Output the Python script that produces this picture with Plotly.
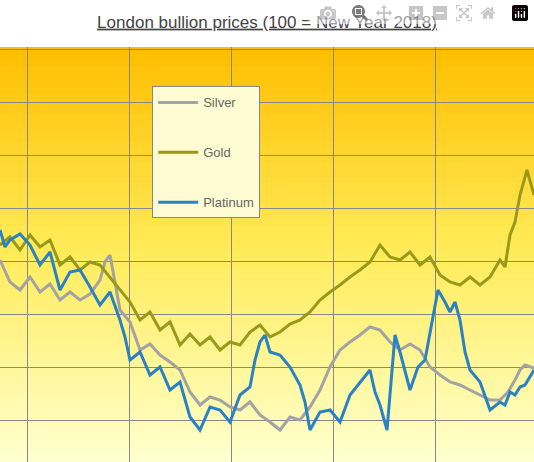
import plotly.graph_objects as go

# x positions (time index) and index levels
gold_x = [0,10,20,30,40,50,60,70,80,90,100,110,120,130,140,150,160,170,180,190,200,210,220,230,240,250,260,270,280,290,300,310,320,330,340,350,360,370,380,390,400,410,420,430,440,450,460,470,480,490,500,505,510,515,520,527,534]
gold_y = [217,225,212,227,215,222,197,205,192,200,197,185,172,160,142,150,132,140,117,128,117,125,112,120,117,130,137,125,130,138,142,150,162,170,177,185,192,200,217,205,202,210,197,205,187,180,177,185,177,185,202,195,227,240,267,292,267]
silver_x = [0,10,20,30,40,50,60,70,80,90,100,105,110,115,120,130,140,150,160,170,180,190,200,210,220,230,240,250,260,270,280,290,300,310,320,330,340,350,360,370,380,390,400,410,420,430,440,450,460,470,480,490,500,508,515,520,525,534]
silver_y = [202,180,172,185,170,178,162,170,162,168,182,200,207,180,152,140,112,118,107,100,92,70,57,65,62,55,52,60,47,40,32,45,42,55,72,95,112,120,127,135,132,120,112,118,112,95,87,80,77,72,67,62,62,70,82,92,97,94]
plat_x = [0,5,10,20,30,40,50,60,70,80,90,100,110,120,125,130,140,150,160,170,180,185,190,200,210,220,230,240,250,255,260,265,270,280,290,300,305,310,320,330,340,350,360,370,375,380,387,395,400,410,418,425,432,438,445,450,455,460,465,470,480,490,500,505,510,515,520,525,534]
plat_y = [232,215,222,228,217,197,210,172,190,192,175,157,170,142,125,102,110,87,95,72,80,62,45,32,55,52,40,67,75,102,120,127,110,107,95,77,60,32,50,52,40,67,80,92,70,57,32,127,110,72,95,102,140,172,160,150,160,142,110,92,80,52,60,57,70,67,75,77,92]

fig = go.Figure()
fig.add_trace(go.Scatter(x=silver_x, y=silver_y, name="Silver", mode="lines", line=dict(color="#a3a3a3", width=3)))
fig.add_trace(go.Scatter(x=gold_x, y=gold_y, name="Gold", mode="lines", line=dict(color="#999a1c", width=3)))
fig.add_trace(go.Scatter(x=plat_x, y=plat_y, name="Platinum", mode="lines", line=dict(color="#2a82c4", width=3)))

def mix(c1, c2, t):
    return "rgb(%d,%d,%d)" % tuple(round(a + (b - a) * t) for a, b in zip(c1, c2))

shapes = []
n = 60
top, mid, bot = (255, 190, 0), (255, 236, 90), (255, 255, 205)
for i in range(n):
    t = i / (n - 1)
    c = mix(top, mid, t / 0.5) if t < 0.5 else mix(mid, bot, (t - 0.5) / 0.5)
    shapes.append(dict(type="rect", xref="paper", yref="paper", x0=0, x1=1,
                       y1=min(1, 1 - i / n + 0.004), y0=1 - (i + 1) / n, fillcolor=c, line=dict(width=0), layer="below"))

fig.update_layout(
    width=534, height=462, margin=dict(l=0, r=0, t=47, b=0),
    paper_bgcolor="white", plot_bgcolor="rgba(0,0,0,0)", shapes=shapes,
    title=dict(text="<u>London bullion prices (100 = New Year 2018)</u>", x=0.5, xanchor="center", y=0.953, yanchor="middle",
               font=dict(family="Liberation Sans, Arial", size=17, color="#444")),
    xaxis=dict(range=[0, 534], tick0=27, dtick=102, showticklabels=False, showgrid=True, gridcolor="#888", gridwidth=1, zeroline=False, showline=False),
    yaxis=dict(range=[0, 415], tick0=42, dtick=53, showticklabels=False, showgrid=True, gridcolor="#888", gridwidth=1, zeroline=False, showline=False),
    legend=dict(x=0.285, y=0.905, xanchor="left", yanchor="top", bgcolor="#fffbd2", bordercolor="#888", borderwidth=1,
                font=dict(family="Liberation Sans, Arial", size=13, color="#666"), tracegroupgap=30, itemwidth=40),
    showlegend=True,
)
fig.update_layout(legend_traceorder="grouped")
for i, tr in enumerate(fig.data):
    tr.legendgroup = str(i)
fig.write_html("out.html", post_script="document.body.style.margin='0';document.body.style.overflow='hidden';")
